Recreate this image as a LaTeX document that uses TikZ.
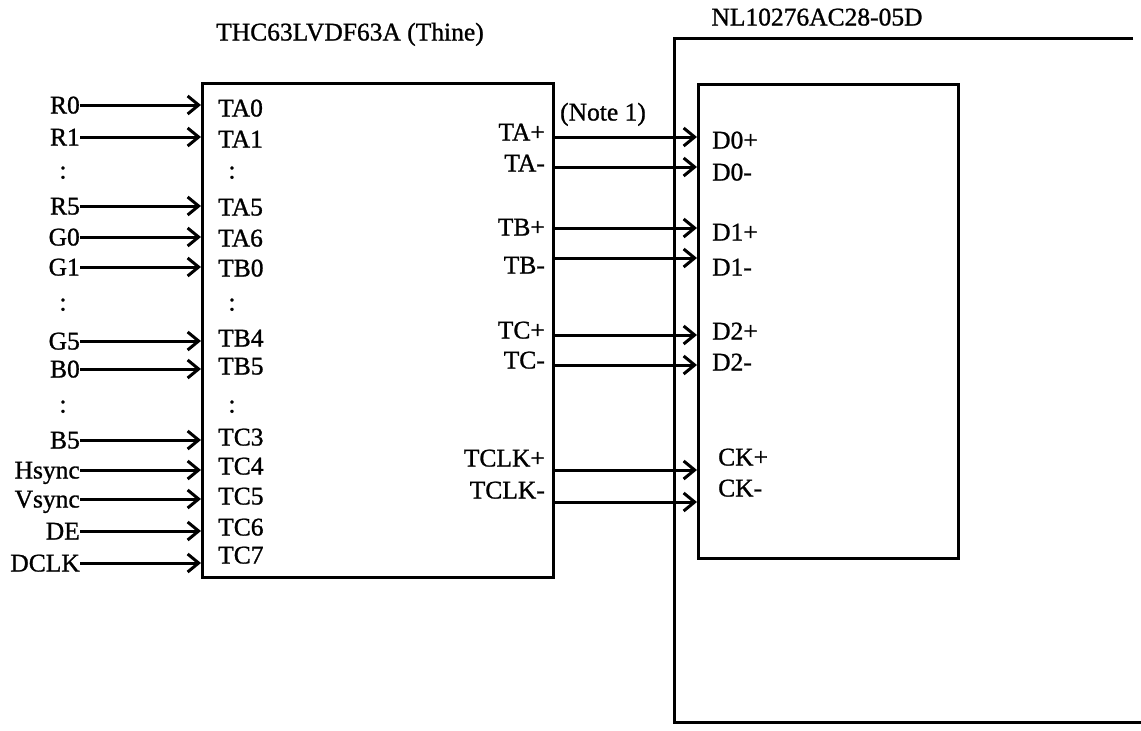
\documentclass[tikz,border=0pt]{standalone}
\usepackage{fontspec}
\setmainfont[FakeBold=1]{Liberation Serif}
\usetikzlibrary{arrows.meta}
\begin{document}
\begin{tikzpicture}[x=1pt,y=-1pt,
  lbl/.style={font=\fontsize{25.5}{30}\selectfont, inner sep=0pt, text height=17pt, text depth=0pt},
  box/.style={draw, line width=3pt, inner sep=0pt, anchor=north west},
  arr/.style={line width=3pt, -{Straight Barb[length=11pt,width=18pt,line width=3pt]}},
  line join=miter]
\useasboundingbox (0,0) rectangle (1141,731);
% boxes
\node[box, minimum width=351pt, minimum height=494pt] (chip) at (201,82) {};
\node[box, minimum width=260pt, minimum height=474pt] (lcd) at (697,83) {};
\coordinate (o1) at (1133,38);
\coordinate (o2) at (674,38);
\coordinate (o3) at (674,722);
\coordinate (o4) at (1141,722);
\draw[line width=3pt] (o1) -- (o2) -- (o3) -- (o4);
% titles
\node[lbl] (t1) at (350,32) {THC63LVDF63A (Thine)};
\node[lbl] (t2) at (817,17) {NL10276AC28-05D};
\node[lbl] (note) at (603,112) {(Note 1)};
% left inputs
\foreach \n/\t/\y in {R0/R0/105, R1/R1/137, R5/R5/206, G0/G0/237, G1/G1/267, G5/G5/341, B0/B0/369, B5/B5/440, Hs/Hsync/470, Vs/Vsync/499, DE/DE/531, DCLK/DCLK/563}{
  \node[lbl, anchor=east] (l\n) at (80,\y) {\t};
  \draw[arr] (l\n.east) -- (l\n.east -| chip.west);
}
\node[lbl] (ld1) at (63,170) {:};
\node[lbl] (ld2) at (63,302) {:};
\node[lbl] (ld3) at (63,404) {:};
% chip input pins
\foreach \n/\t/\y in {TA0/TA0/108, TA1/TA1/139, TA5/TA5/207, TA6/TA6/238, TB0/TB0/268, TB4/TB4/338, TB5/TB5/366, TC3/TC3/437, TC4/TC4/466, TC5/TC5/496, TC6/TC6/527, TC7/TC7/555}{
  \node[lbl, anchor=west] (p\n) at (218,\y) {\t};
}
\node[lbl] (pd1) at (232,170) {:};
\node[lbl] (pd2) at (232,302) {:};
\node[lbl] (pd3) at (232,404) {:};
% chip outputs and LVDS lines
\foreach \n/\t/\ly/\ay in {TAp/TA+/132/137, TAm/TA-/163/167, TBp/TB+/227/228, TBm/TB-/265/258, TCp/TC+/330/335, TCm/TC-/360/365, TCKp/TCLK+/458/470, TCKm/TCLK-/490/502}{
  \node[lbl, anchor=east] (q\n) at (545,\ly) {\t};
  \draw[arr] (chip.east |- 0,\ay) -- (lcd.west |- 0,\ay);
}
% LCD pins
\foreach \n/\t/\x/\y in {D0p/D0+/712/140, D0m/D0-/712/172, D1p/D1+/712/232, D1m/D1-/712/267, D2p/D2+/712/331, D2m/D2-/712/362, CKp/CK+/718/457, CKm/CK-/718/488}{
  \node[lbl, anchor=west] (r\n) at (\x,\y) {\t};
}
\end{tikzpicture}
\end{document}
